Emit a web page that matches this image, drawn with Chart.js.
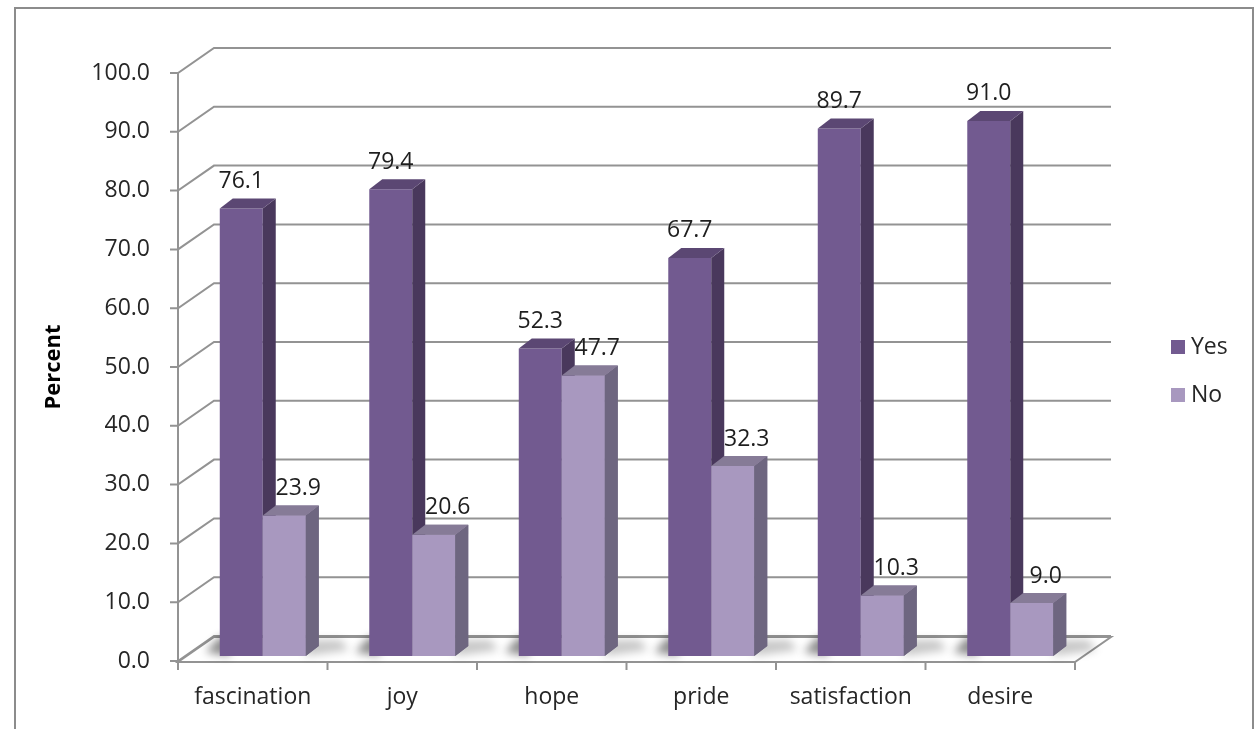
<!DOCTYPE html>
<html>
<head>
<meta charset="utf-8">
<script src="https://cdn.jsdelivr.net/npm/chart.js@4.4.1/dist/chart.umd.min.js"></script>
<style>
  html, body { margin: 0; padding: 0; background: #ffffff; }
  #wrap { width: 1255px; height: 729px; position: relative; }
</style>
</head>
<body>
<div id="wrap"><canvas id="c" width="1255" height="729"></canvas></div>
<script>
// Survey results: share of respondents (percent) answering Yes / No per emotion
const categories = ['fascination', 'joy', 'hope', 'pride', 'satisfaction', 'desire'];
const yesValues = [76.1, 79.4, 52.3, 67.7, 89.7, 91.0];
const noValues = [23.9, 20.6, 47.7, 32.3, 10.3, 9.0];
const seriesNames = ['Yes', 'No'];
const axisTitle = 'Percent';

// Face colours for the extruded bars
const faces = {
  Yes: { front: '#725a90', side: '#49385c', top: '#5b4773' },
  No:  { front: '#a898bf', side: '#6e6680', top: '#867b97' }
};

// Perspective offsets (pixels)
const D = { wallX: 36, wallY: -25, barX: 13, barY: -10, shiftX: 10, shiftY: -5 };
const FONT = '"Open Sans", "DejaVu Sans", sans-serif';
const FS = 23;
const TEXT = '#262626';
const LINE = '#939393';

function poly(ctx, pts) {
  ctx.beginPath();
  ctx.moveTo(pts[0][0], pts[0][1]);
  for (let i = 1; i < pts.length; i++) ctx.lineTo(pts[i][0], pts[i][1]);
  ctx.closePath();
}

// side and top faces of every bar in one dataset
function drawDepthFaces(ctx, meta, f) {
  meta.data.forEach(bar => {
    const { x, y, width, base } = bar.getProps(['x', 'y', 'width', 'base'], true);
    const l = x - width / 2, r = x + width / 2;
    ctx.fillStyle = f.side;
    poly(ctx, [[r, y], [r + D.barX, y + D.barY], [r + D.barX, base + D.barY], [r, base]]);
    ctx.fill();
    ctx.fillStyle = f.top;
    poly(ctx, [[l, y], [r, y], [r + D.barX, y + D.barY], [l + D.barX, y + D.barY]]);
    ctx.fill();
  });
}

const threeD = {
  id: 'threeD',
  beforeDraw(chart) {
    const ctx = chart.ctx;
    ctx.save();
    ctx.strokeStyle = '#8c8c8c';
    ctx.lineWidth = 2;
    ctx.strokeRect(15, 8, 1238, 800);
    ctx.restore();
  },
  beforeDatasetsDraw(chart) {
    const { ctx, chartArea: a, scales: { y } } = chart;
    const y0 = y.getPixelForValue(0);
    ctx.save();
    ctx.lineWidth = 2;
    ctx.strokeStyle = LINE;

    // floor
    poly(ctx, [[a.left, y0 + 1], [a.right, y0 + 1],
               [a.right + D.wallX, y0 + 1 + D.wallY], [a.left + D.wallX, y0 + 1 + D.wallY]]);
    ctx.fillStyle = '#ffffff';
    ctx.fill();
    ctx.stroke();

    // back-wall gridlines with their receding edge and tick marks
    y.ticks.forEach(t => {
      const py = y.getPixelForValue(t.value);
      ctx.beginPath();
      ctx.moveTo(a.left - 8, py);
      ctx.lineTo(a.left, py);
      ctx.lineTo(a.left + D.wallX, py + D.wallY);
      ctx.lineTo(a.right + D.wallX, py + D.wallY);
      ctx.stroke();
    });

    // front value axis
    ctx.beginPath();
    ctx.moveTo(a.left, y.getPixelForValue(100));
    ctx.lineTo(a.left, y0 + 2);
    ctx.stroke();

    // category axis with tick marks between categories
    ctx.beginPath();
    ctx.moveTo(a.left, y0 + 1);
    ctx.lineTo(a.right, y0 + 1);
    const step = (a.right - a.left) / categories.length;
    for (let i = 0; i <= categories.length; i++) {
      const px = a.left + step * i;
      ctx.moveTo(px, y0 + 1);
      ctx.lineTo(px, y0 + 9);
    }
    ctx.stroke();

    // soft shadows cast by each bar pair on the floor
    const m0 = chart.getDatasetMeta(0).data;
    const m1 = chart.getDatasetMeta(1).data;
    ctx.filter = 'blur(4px)';
    m0.forEach((b, i) => {
      const l = b.x - b.width / 2 + D.shiftX;
      const r = m1[i].x + m1[i].width / 2 + D.shiftX;
      const base = b.base + D.shiftY;
      ctx.fillStyle = 'rgba(0,0,0,0.45)';
      poly(ctx, [[l - 14, base - 4], [l, base - 19], [l + 10, base - 19], [l + 10, base]]);
      ctx.fill();
      ctx.fillStyle = 'rgba(0,0,0,0.22)';
      poly(ctx, [[r, base - 16], [r + D.barX + 22, base - 16], [r + D.barX + 30, base - 6], [r, base]]);
      ctx.fill();
    });
    ctx.filter = 'none';
    ctx.restore();

    // bars sit a little behind the front plane
    ctx.save();
    ctx.translate(D.shiftX, D.shiftY);
  },
  afterDatasetDraw(chart, args) {
    const f = faces[chart.data.datasets[args.index].label];
    drawDepthFaces(chart.ctx, args.meta, f);
  },
  afterDatasetsDraw(chart) {
    const ctx = chart.ctx;
    // the No bars stand right of the Yes bars and hide their side faces
    const noIdx = seriesNames.indexOf('No');
    const noMeta = chart.getDatasetMeta(noIdx);
    noMeta.data.forEach(bar => bar.draw(ctx));
    drawDepthFaces(ctx, noMeta, faces.No);
    ctx.restore();

    // value labels above each bar
    ctx.save();
    ctx.font = FS + 'px ' + FONT;
    ctx.fillStyle = '#1e1e1e';
    ctx.textAlign = 'center';
    ctx.textBaseline = 'middle';
    chart.data.datasets.forEach((ds, di) => {
      chart.getDatasetMeta(di).data.forEach((bar, i) => {
        const nudge = ds.label === 'No' ? 14 : 0;
        ctx.fillText(ds.data[i].toFixed(1), bar.x + D.shiftX + nudge, bar.y + D.shiftY - 27);
      });
    });
    ctx.restore();
  },
  afterDraw(chart) {
    // legend
    const ctx = chart.ctx;
    ctx.save();
    ctx.font = FS + 'px ' + FONT;
    ctx.textBaseline = 'middle';
    ctx.textAlign = 'left';
    chart.data.datasets.forEach((ds, i) => {
      const cy = 347 + 48 * i;
      ctx.fillStyle = faces[ds.label].front;
      ctx.fillRect(1171, cy - 7, 14, 14);
      ctx.fillStyle = TEXT;
      ctx.fillText(ds.label, 1191, cy);
    });
    ctx.restore();
  }
};

Chart.defaults.font.family = FONT;
Chart.defaults.color = TEXT;

new Chart(document.getElementById('c'), {
  type: 'bar',
  data: {
    labels: categories,
    datasets: [
      { label: seriesNames[0], data: yesValues, backgroundColor: faces.Yes.front, clip: false },
      { label: seriesNames[1], data: noValues, backgroundColor: faces.No.front, clip: false }
    ]
  },
  options: {
    responsive: false,
    animation: false,
    events: [],
    layout: { padding: { top: 73, right: 180, bottom: 0, left: 0 } },
    datasets: { bar: { categoryPercentage: 0.575, barPercentage: 1.0 } },
    plugins: { legend: { display: false }, tooltip: { enabled: false } },
    scales: {
      x: {
        grid: { display: false, drawTicks: false },
        border: { display: false },
        ticks: { padding: 23, font: { size: FS }, color: TEXT, maxRotation: 0 },
        afterFit(s) { s.height = 68; }
      },
      y: {
        min: 0, max: 100,
        grid: { display: false, drawTicks: false },
        border: { display: false },
        ticks: { stepSize: 10, padding: 28, font: { size: FS }, color: TEXT,
                 callback: v => Number(v).toFixed(1) },
        title: { display: true, text: axisTitle, color: '#000',
                 font: { size: 22, weight: 'bold' }, padding: { top: 41, bottom: 0 } },
        afterFit(s) { s.width = 178; }
      }
    }
  },
  plugins: [threeD]
});
</script>
</body>
</html>
